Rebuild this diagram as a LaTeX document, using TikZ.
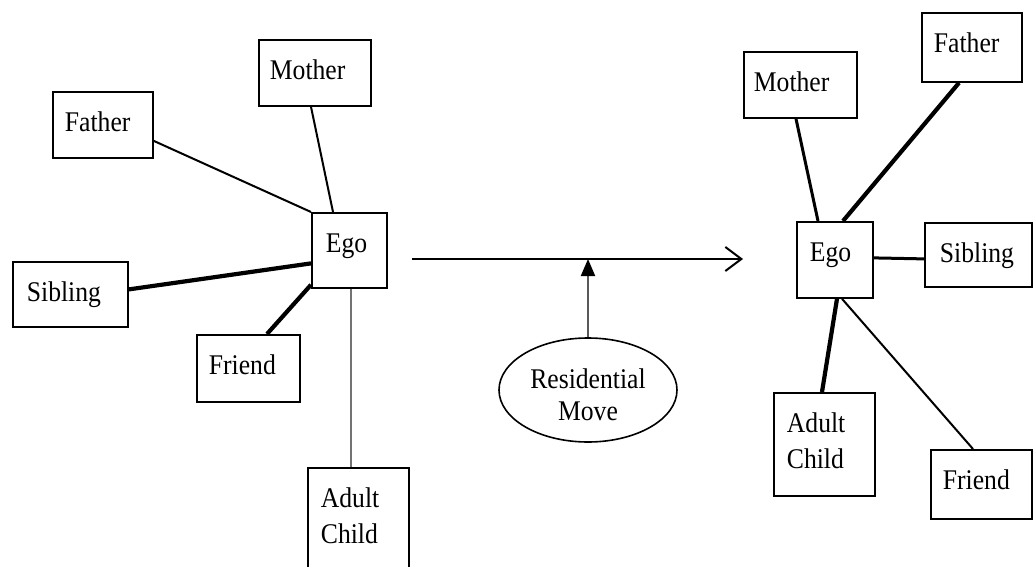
\documentclass[tikz,border=0pt]{standalone}
\usepackage{fontspec}
\setmainfont{Liberation Serif}[FakeStretch=0.9]
\usetikzlibrary{shapes.geometric,arrows.meta,calc}
\newcommand\bxfont{\fontsize{28.5}{36}\selectfont}
\tikzset{
  box/.style={draw, line width=1.8pt, inner ysep=0pt, text height=40pt, align=left, anchor=north west, font=\bxfont},
  thinl/.style={line width=2pt},
  thickl/.style={line width=4.2pt},
  midl/.style={line width=3pt},
  grayl/.style={line width=2.2pt, draw=black!55},
}
\begin{document}
\begin{tikzpicture}[x=1pt,y=-1pt]
\useasboundingbox (0,0) rectangle (1033,567);
% left network
\node[box, inner xsep=11pt, text width=90pt, text depth=26pt] (LMother) at (258,39) {Mother};
\node[box, inner xsep=12pt, text width=76pt, text depth=26pt] (LFather) at (52,91) {Father};
\node[box, inner xsep=14pt, text width=47pt, text depth=35pt] (LEgo) at (311,212) {Ego};
\node[box, inner xsep=14pt, text width=87pt, text depth=25pt] (LSibling) at (12,261) {Sibling};
\node[box, inner xsep=12pt, text width=79pt, text depth=27pt] (LFriend) at (196,334) {Friend};
\node[box, inner xsep=13pt, text width=75pt, text depth=61pt] (LAdult) at (307,467) {Adult\\Child};
\draw[thinl] ($(LFather.east)+(0,16)$) -- (LEgo.north west);
\draw[thinl] ($(LMother.south west)+(53,0)$) -- ($(LEgo.north west)+(22,0)$);
\draw[thickl] ($(LSibling.east)+(0,-5)$) -- ($(LEgo.west)+(0,13)$);
\draw[thickl] ($(LFriend.north west)+(71,0)$) -- ($(LEgo.south west)+(0,-4)$);
\coordinate (LAtop) at ($(LEgo.south west)+(40,0)$);
\draw[grayl] (LAtop) -- (LAtop |- LAdult.north);
% transition
\coordinate (arrS) at (412,259);
\coordinate (arrE) at (743,259);
\draw[line width=2pt, -{Straight Barb[length=16pt,width=24pt]}] (arrS) -- (arrE);
\node[draw, ellipse, line width=1.6pt, minimum width=178pt, minimum height=104pt, inner sep=0pt,
      align=center, font=\fontsize{28.5}{32}\selectfont, text height=60pt, text depth=0pt] (Move) at (588,390) {Residential\\Move};
\draw[line width=2pt, draw=black!65, -{Triangle[length=17pt,width=14pt,color=black,fill=black]}] (Move.north) -- (Move.north |- arrS);
% right network
\node[box, inner xsep=10pt, text width=93pt, text depth=26pt] (RMother) at (743,51) {Mother};
\node[box, inner xsep=12pt, text width=76pt, text depth=29pt] (RFather) at (921,12) {Father};
\node[box, inner xsep=13pt, text width=50pt, text depth=36pt] (REgo) at (796,221) {Ego};
\node[box, inner xsep=15pt, text width=77pt, text depth=24pt] (RSibling) at (924,222) {Sibling};
\node[box, inner xsep=13pt, text width=75pt, text depth=63pt] (RAdult) at (773,392) {Adult\\Child};
\node[box, inner xsep=12pt, text width=77pt, text depth=29pt] (RFriend) at (930,449) {Friend};
\draw[midl] ($(RMother.south west)+(53,0)$) -- ($(REgo.north west)+(22,0)$);
\draw[thickl] ($(RFather.south west)+(38,0)$) -- ($(REgo.north west)+(47,0)$);
\draw[midl] ($(REgo.east)+(0,-2)$) -- ($(RSibling.west)+(0,4)$);
\draw[thickl] ($(REgo.south west)+(41,0)$) -- ($(RAdult.north west)+(49,0)$);
\draw[thinl] ($(REgo.south west)+(46,0)$) -- ($(RFriend.north west)+(43,0)$);
\end{tikzpicture}
\end{document}
